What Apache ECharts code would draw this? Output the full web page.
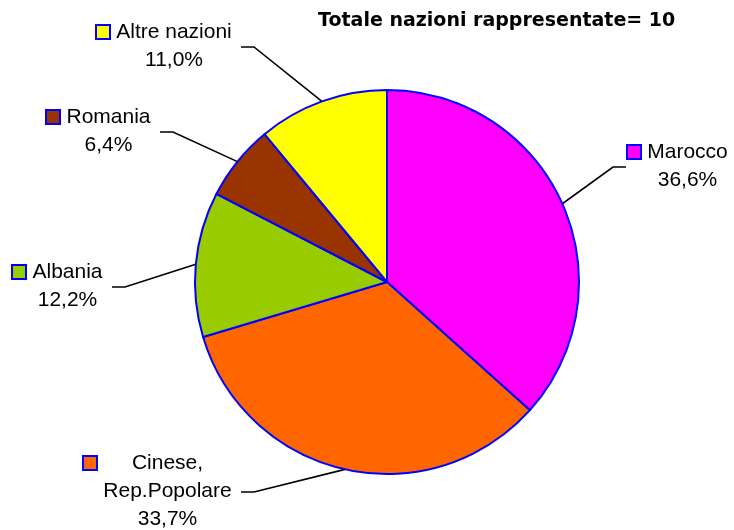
<!DOCTYPE html>
<html>
<head>
    <meta charset="utf-8">
    <title>Totale nazioni rappresentate</title>
    <script src="https://cdn.jsdelivr.net/npm/echarts@6/dist/echarts.min.js"></script>
</head>
<body style="margin:0;background:#ffffff;">
<div id="main" style="width:734px;height:530px;"></div>
<script type="text/javascript">
    var titolo = "Totale nazioni rappresentate= 10";
    var nazioni = ["Marocco", "Cinese,\nRep.Popolare", "Albania", "Romania", "Altre nazioni"];
    var percentuali = [36.6, 33.7, 12.2, 6.4, 11.0];
    var colori = ["#ff00ff", "#ff6600", "#99cc00", "#993300", "#ffff00"];

    // label blocks: top-left corner (key included) and the side the leader line joins
    var posEtichette = [
        [628, 138, "left"],
        [84, 449, "right"],
        [13, 258, "right"],
        [47, 103, "right"],
        [97, 18, "right"]
    ];

    var fontEtichette = "'Liberation Sans', Arial, sans-serif";
    var altezzaRiga = 28;

    var ctx = document.createElement("canvas").getContext("2d");
    ctx.font = "21px " + fontEtichette;
    function larghezza(testo) {
        return Math.ceil(ctx.measureText(testo).width);
    }

    function righeEtichetta(i) {
        var righe = nazioni[i].split("\n");
        righe.push(percentuali[i].toFixed(1).replace(".", ",") + "%");
        return righe;
    }

    var dati = [];
    for (var i = 0; i < nazioni.length; ++i) {
        var righe = righeEtichetta(i);
        var w = 0;
        for (var j = 0; j < righe.length; ++j) {
            w = Math.max(w, larghezza(righe[j]));
        }
        dati.push({
            name: nazioni[i],
            value: percentuali[i],
            itemStyle: { color: colori[i] },
            label: {
                rich: {
                    k: { width: 12, height: 12, backgroundColor: colori[i], borderColor: "#0000ff", borderWidth: 2, lineHeight: altezzaRiga },
                    v: { width: 12, height: 12, lineHeight: altezzaRiga },
                    g: { width: 7, lineHeight: altezzaRiga },
                    t: { width: w, align: "center", fontSize: 21, fontFamily: fontEtichette, color: "#000", lineHeight: altezzaRiga }
                }
            }
        });
    }

    var myChart = echarts.init(document.getElementById("main"), null, { renderer: "canvas" });
    myChart.setOption({
        animation: false,
        backgroundColor: "#ffffff",
        title: {
            text: titolo,
            left: 318,
            top: 12,
            padding: 0,
            textStyle: {
                fontFamily: "'DejaVu Sans', sans-serif",
                fontWeight: "bold",
                fontSize: 19,
                color: "#000"
            }
        },
        series: [{
            type: "pie",
            center: [387, 282],
            radius: 192,
            startAngle: 90,
            clockwise: true,
            avoidLabelOverlap: false,
            emphasis: { disabled: true },
            itemStyle: { borderColor: "#0000ff", borderWidth: 2 },
            data: dati,
            label: {
                show: true,
                position: "outside",
                fontSize: 21,
                fontFamily: fontEtichette,
                color: "#000",
                formatter: function (params) {
                    var righe = righeEtichetta(params.dataIndex);
                    var out = [];
                    for (var j = 0; j < righe.length; ++j) {
                        out.push((j == 0 ? "{k|}" : "{v|}") + "{g|}{t|" + righe[j] + "}");
                    }
                    return out.join("\n");
                }
            },
            labelLine: {
                show: true,
                length: 20,
                length2: 12,
                lineStyle: { color: "#000", width: 1.6 }
            },
            labelLayout: function (params) {
                var pos = posEtichette[params.dataIndex];
                var w = params.labelRect.width;
                var h = righeEtichetta(params.dataIndex).length * altezzaRiga;
                var yMid = pos[1] + h / 2 + 1;
                var p2, p1;
                if (pos[2] == "left") {
                    p2 = [pos[0] - 2, yMid];
                    p1 = [p2[0] - 13, yMid];
                } else {
                    p2 = [pos[0] + w + 7, yMid];
                    p1 = [p2[0] + 13, yMid];
                }
                var res = { x: pos[0], y: pos[1], align: "left", verticalAlign: "top" };
                if (params.labelLinePoints) {
                    res.labelLinePoints = [params.labelLinePoints[0], p1, p2];
                }
                return res;
            }
        }]
    });
</script>
</body>
</html>
